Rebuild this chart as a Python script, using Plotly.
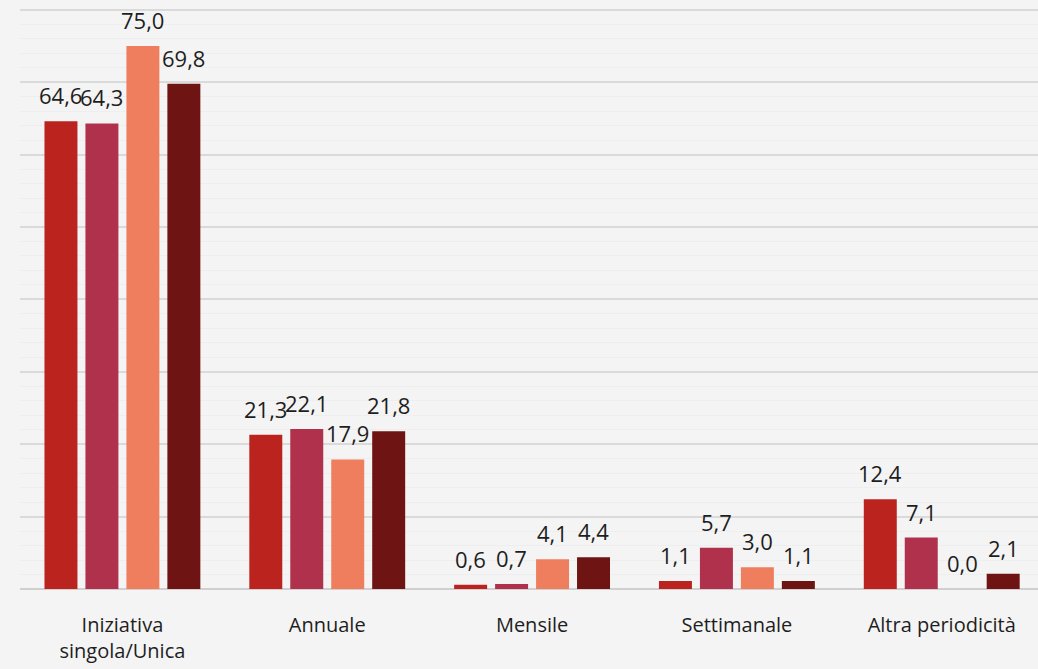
import plotly.graph_objects as go

categories = ["Iniziativa<br>singola/Unica", "Annuale", "Mensile", "Settimanale", "Altra periodicità"]

serie_1 = [64.6, 21.3, 0.6, 1.1, 12.4]
serie_2 = [64.3, 22.1, 0.7, 5.7, 7.1]
serie_3 = [75.0, 17.9, 4.1, 3.0, 0.0]
serie_4 = [69.8, 21.8, 4.4, 1.1, 2.1]

series = [
    ("Serie 1", serie_1, "#bb231f"),
    ("Serie 2", serie_2, "#b0314c"),
    ("Serie 3", serie_3, "#ef7e5f"),
    ("Serie 4", serie_4, "#6e1513"),
]

fig = go.Figure()

for name, values, color in series:
    fig.add_trace(go.Bar(
        x=categories,
        y=values,
        name=name,
        marker_color=color,
        marker_line_width=0,
    ))

# value labels: one per bar, shifted sideways onto its bar inside the group
slot = 1018 / 4.97 * 0.8 / 4
for i, (name, values, color) in enumerate(series):
    for cat, v in zip(categories, values):
        fig.add_annotation(
            x=cat,
            y=v,
            text=f"{v:.1f}".replace(".", ","),
            showarrow=False,
            xshift=(i - 1.5) * slot,
            yanchor="bottom",
            yshift=9,
            font=dict(size=22, color="#1e1e1e"),
        )

fig.update_layout(
    width=1038,
    height=669,
    margin=dict(l=20, r=0, t=0, b=80),
    paper_bgcolor="#f4f4f4",
    plot_bgcolor="#f4f4f4",
    font=dict(family="Open Sans", size=20, color="#1e1e1e"),
    showlegend=False,
    barmode="group",
    bargap=0.2,
    bargroupgap=0.195,
)

fig.update_xaxes(
    range=[-0.5, 4.47],
    showgrid=False,
    showline=False,
    ticks="",
    ticklabelstandoff=22,
    tickfont=dict(size=20, color="#1e1e1e"),
)

fig.update_yaxes(
    range=[0, 81.35],
    dtick=10,
    showticklabels=False,
    showgrid=True,
    gridcolor="#dadada",
    gridwidth=2,
    zeroline=True,
    zerolinecolor="#d0d0d0",
    zerolinewidth=2,
    minor=dict(dtick=2, showgrid=True, gridcolor="#eeeeee", gridwidth=1),
)

fig.write_html(
    "out.html",
    config={"displayModeBar": False},
    post_script="document.body.style.margin='0';",
)
